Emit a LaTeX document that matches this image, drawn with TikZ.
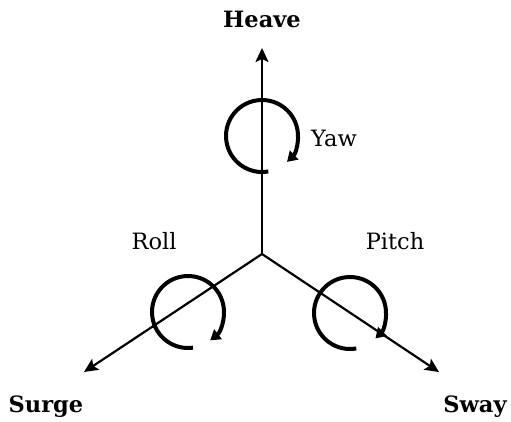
\documentclass[tikz,border=0pt]{standalone}
\usepackage{fontspec}
\setmainfont{DejaVu Serif}
\usetikzlibrary{arrows.meta}
\begin{document}
\begin{tikzpicture}[x=1pt,y=-1pt,
  axis/.style={line width=2.2pt,-{Stealth[length=14pt,width=13pt,inset=3pt]}},
  rot/.style={line width=4pt,-{Triangle[length=10pt,width=12pt]}},
  lab/.style={font=\fontsize{22.5}{26}\selectfont,inner sep=0pt,anchor=base},
  blab/.style={font=\fontsize{22.5}{26}\selectfont\bfseries,inner sep=0pt,anchor=base}]
\useasboundingbox (0,0) rectangle (511,421);
\coordinate (O) at (262,254);
\coordinate (H) at (262,48);
\coordinate (Su) at (84,372);
\coordinate (Sw) at (439,372);
\coordinate (Yc) at (262,136);
\coordinate (Rc) at (188,312);
\coordinate (Pc) at (350,313);
\draw[axis] (O) -- (H);
\draw[axis] (O) -- (Su);
\draw[axis] (O) -- (Sw);
\draw[rot] ([shift={(-80:36pt)}]Yc) arc[start angle=-80,end angle=-406,radius=36pt];
\draw[rot] ([shift={(-82:36pt)}]Rc) arc[start angle=-82,end angle=-412,radius=36pt];
\draw[rot] ([shift={(-80:36pt)}]Pc) arc[start angle=-80,end angle=-405,radius=36pt];
\node[blab] (heave) at (262,27) {Heave};
\node[blab] (surge) at (46,412) {Surge};
\node[blab] (sway) at (475,412) {Sway};
\node[lab] (yaw) at (334,146) {Yaw};
\node[lab] (roll) at (154,249) {Roll};
\node[lab] (pitch) at (395,249) {Pitch};
\end{tikzpicture}
\end{document}
